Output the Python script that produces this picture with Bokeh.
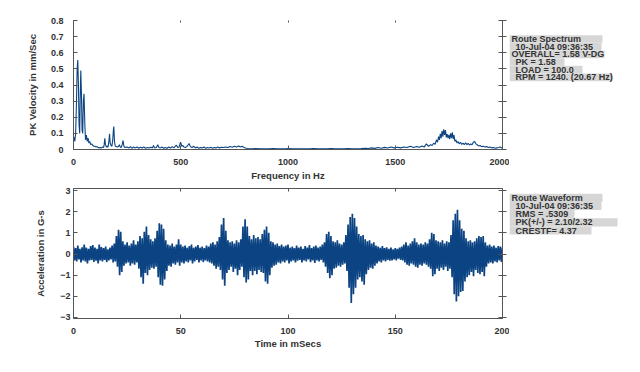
import numpy as np
from bokeh.plotting import figure
from bokeh.models import Range1d, LinearAxis, FixedTicker
from bokeh.layouts import row, column
from bokeh.embed import file_html
from bokeh.resources import INLINE
from bokeh.core.properties import value

# ---------------- data ----------------
spec_freq = [0, 3, 6, 10, 14, 17, 20, 23, 26, 29, 31, 34, 37, 40, 43, 46, 49, 53, 56, 60,
             64, 68, 72, 76, 80, 85, 90, 95, 100, 105, 110, 115, 120, 125, 130, 135, 140, 143, 146, 149,
             153, 157, 161, 165, 168, 171, 175, 179, 183, 186, 188, 191, 195, 200, 205, 210, 214, 218, 222, 227,
             231, 235, 240, 250, 258, 265, 272, 280, 288, 296, 304, 312, 320, 328, 336, 344, 352, 360, 368, 373,
             378, 386, 393, 398, 405, 412, 420, 428, 436, 444, 452, 460, 468, 474, 480, 486, 492, 499, 505, 510,
             515, 522, 530, 539, 545, 552, 560, 568, 576, 584, 592, 600, 608, 616, 624, 632, 640, 648, 656, 664,
             672, 680, 690, 700, 710, 720, 730, 740, 750, 760, 770, 778, 786, 795, 805, 815, 830, 850, 870, 890,
             910, 930, 950, 970, 990, 1000, 1020, 1040, 1060, 1080, 1100, 1120, 1140, 1160, 1180, 1200, 1220, 1240, 1260, 1280,
             1300, 1320, 1340, 1360, 1375, 1390, 1405, 1420, 1435, 1450, 1465, 1480, 1495, 1510, 1525, 1540, 1555, 1570, 1585, 1600,
             1612, 1625, 1635, 1645, 1655, 1665, 1672, 1680, 1686, 1692, 1697, 1702, 1706, 1710, 1714, 1718, 1722, 1726, 1730, 1734,
             1738, 1742, 1746, 1750, 1754, 1758, 1762, 1766, 1770, 1774, 1778, 1783, 1788, 1793, 1798, 1804, 1810, 1816, 1822, 1828,
             1834, 1840, 1846, 1852, 1858, 1864, 1870, 1876, 1882, 1888, 1895, 1902, 1910, 1918, 1926, 1934, 1942, 1950, 1958, 1966,
             1974, 1982, 1990, 1996, 2000]
spec_amp = [0.08, 0.07, 0.05, 0.10, 0.30, 0.50, 0.555, 0.40, 0.15, 0.10, 0.30, 0.49, 0.35, 0.12, 0.10, 0.30, 0.345, 0.15, 0.06, 0.09,
            0.05, 0.07, 0.04, 0.05, 0.03, 0.035, 0.025, 0.02, 0.02, 0.015, 0.018, 0.012, 0.01, 0.012, 0.01, 0.015, 0.012, 0.03, 0.07, 0.03,
            0.015, 0.02, 0.015, 0.05, 0.097, 0.04, 0.025, 0.02, 0.06, 0.12, 0.143, 0.05, 0.02, 0.018, 0.015, 0.02, 0.03, 0.015, 0.012, 0.03,
            0.056, 0.02, 0.012, 0.015, 0.01, 0.018, 0.008, 0.015, 0.01, 0.016, 0.008, 0.014, 0.009, 0.015, 0.008, 0.012, 0.009, 0.014, 0.01, 0.025,
            0.01, 0.012, 0.03, 0.012, 0.01, 0.015, 0.008, 0.013, 0.008, 0.015, 0.009, 0.018, 0.01, 0.02, 0.027, 0.012, 0.015, 0.045, 0.02, 0.025,
            0.015, 0.012, 0.02, 0.037, 0.018, 0.012, 0.02, 0.01, 0.015, 0.008, 0.012, 0.01, 0.015, 0.008, 0.012, 0.009, 0.014, 0.008, 0.012, 0.01,
            0.015, 0.01, 0.014, 0.012, 0.016, 0.012, 0.018, 0.014, 0.02, 0.015, 0.022, 0.016, 0.02, 0.012, 0.008, 0.006, 0.005, 0.006, 0.004, 0.005,
            0.004, 0.006, 0.004, 0.005, 0.004, 0.006, 0.004, 0.005, 0.004, 0.005, 0.004, 0.006, 0.004, 0.005, 0.004, 0.006, 0.004, 0.005, 0.004, 0.006,
            0.004, 0.005, 0.006, 0.008, 0.006, 0.01, 0.007, 0.012, 0.008, 0.013, 0.009, 0.015, 0.01, 0.014, 0.01, 0.016, 0.012, 0.02, 0.012, 0.018,
            0.014, 0.022, 0.015, 0.035, 0.02, 0.03, 0.025, 0.04, 0.032, 0.06, 0.045, 0.08, 0.06, 0.097, 0.07, 0.115, 0.08, 0.125, 0.09, 0.12,
            0.075, 0.095, 0.07, 0.09, 0.065, 0.10, 0.07, 0.107, 0.065, 0.09, 0.05, 0.06, 0.04, 0.05, 0.035, 0.045, 0.032, 0.04, 0.03, 0.042,
            0.03, 0.038, 0.028, 0.035, 0.03, 0.045, 0.05, 0.035, 0.03, 0.022, 0.025, 0.018, 0.02, 0.015, 0.018, 0.012, 0.015, 0.01, 0.012, 0.008,
            0.01, 0.012, 0.015, 0.01, 0.008]

# waveform: successive positive / negative extremes, one pair per millisecond
wave_time_ms = list(range(0, 201))
wave_upper = [0.35, 0.28, 0.40, 0.25, 0.32, 0.45, 0.30, 0.25, 0.38, 0.42,
              0.30, 0.25, 0.45, 0.33, 0.28, 0.35, 0.22, 0.30, 0.40, 0.50,
              0.85, 1.15, 1.05, 0.60, 0.45, 0.55, 0.40, 0.50, 0.65, 0.45,
              0.60, 0.85, 0.75, 1.05, 1.30, 0.90, 0.70, 0.60, 0.75, 1.10,
              1.45, 1.40, 1.20, 0.65, 0.45, 0.40, 0.50, 0.35, 0.45, 0.70,
              0.45, 0.35, 0.40, 0.30, 0.38, 0.45, 0.30, 0.35, 0.42, 0.30,
              0.35, 0.28, 0.40, 0.35, 0.50, 0.55, 0.45, 0.60, 0.80, 1.40,
              1.70, 1.10, 0.65, 0.55, 0.60, 0.50, 0.65, 0.55, 0.70, 1.30,
              1.65, 1.30, 0.85, 0.70, 0.90, 0.75, 0.80, 0.70, 0.95, 1.15,
              1.30, 1.00, 0.60, 0.55, 0.45, 0.50, 0.38, 0.45, 0.35, 0.40,
              0.45, 0.30, 0.35, 0.28, 0.40, 0.30, 0.35, 0.25, 0.38, 0.30,
              0.42, 0.28, 0.35, 0.40, 0.30, 0.35, 0.45, 0.55, 0.95, 1.05,
              0.85, 0.60, 0.55, 0.65, 0.50, 0.45, 0.55, 0.90, 1.40, 1.75,
              1.90, 1.70, 1.30, 0.95, 0.85, 0.90, 0.70, 0.60, 0.65, 0.50,
              0.55, 0.40, 0.35, 0.30, 0.38, 0.28, 0.32, 0.25, 0.30, 0.22,
              0.28, 0.25, 0.30, 0.35, 0.45, 0.55, 0.40, 0.50, 0.60, 0.75,
              0.55, 0.45, 0.50, 0.45, 0.55, 0.50, 0.70, 1.00, 0.95, 0.65,
              0.60, 0.55, 0.65, 0.50, 0.60, 0.55, 0.90, 1.60, 1.90, 2.10,
              1.60, 1.20, 1.10, 0.75, 0.60, 0.65, 0.55, 0.60, 0.75, 0.85,
              0.80, 0.85, 0.55, 0.40, 0.45, 0.35, 0.40, 0.30, 0.38, 0.35,
              0.30]
wave_lower = [-0.30, -0.35, -0.25, -0.40, -0.30, -0.35, -0.45, -0.30, -0.28, -0.38,
              -0.32, -0.45, -0.30, -0.35, -0.28, -0.38, -0.30, -0.25, -0.40, -0.35,
              -0.60, -1.00, -0.85, -0.55, -0.45, -0.40, -0.55, -0.45, -0.50, -0.40,
              -0.70, -1.10, -1.40, -0.90, -1.00, -0.75, -0.65, -0.70, -0.60, -1.10,
              -1.45, -1.50, -1.20, -0.80, -0.55, -0.60, -0.45, -0.50, -0.40, -0.55,
              -0.40, -0.45, -0.35, -0.40, -0.30, -0.45, -0.35, -0.28, -0.40, -0.30,
              -0.38, -0.30, -0.35, -0.40, -0.45, -0.55, -0.70, -0.60, -0.75, -1.20,
              -1.50, -0.90, -0.75, -0.60, -0.85, -0.70, -1.00, -0.75, -0.60, -1.10,
              -1.35, -1.20, -0.80, -1.00, -0.80, -0.95, -0.75, -0.85, -0.90, -1.30,
              -1.40, -1.00, -0.65, -0.55, -0.50, -0.40, -0.45, -0.35, -0.40, -0.30,
              -0.45, -0.35, -0.30, -0.40, -0.32, -0.28, -0.40, -0.30, -0.35, -0.25,
              -0.38, -0.30, -0.42, -0.30, -0.35, -0.28, -0.40, -0.60, -0.90, -1.15,
              -1.00, -0.70, -0.65, -0.55, -0.60, -0.50, -0.45, -0.80, -1.60, -2.32,
              -1.90, -1.60, -1.20, -1.10, -1.30, -1.45, -0.95, -0.75, -0.65, -0.70,
              -0.55, -0.45, -0.35, -0.40, -0.30, -0.35, -0.28, -0.32, -0.30, -0.25,
              -0.30, -0.22, -0.28, -0.30, -0.40, -0.50, -0.55, -0.45, -0.50, -0.60,
              -0.65, -0.50, -0.55, -0.45, -0.50, -0.60, -0.70, -1.05, -0.95, -0.70,
              -0.80, -0.65, -0.75, -0.60, -0.80, -0.70, -1.10, -1.90, -2.25, -2.00,
              -1.80, -1.75, -1.30, -1.10, -1.00, -0.85, -1.05, -0.75, -0.90, -0.95,
              -0.85, -1.05, -0.60, -0.45, -0.40, -0.45, -0.35, -0.40, -0.30, -0.38,
              -0.35]

spec_xticks = [0, 500, 1000, 1500, 2000]
spec_yticks = [0, 0.1, 0.2, 0.3, 0.4, 0.5, 0.6, 0.7, 0.8]
wave_xticks = [0, 50, 100, 150, 200]
wave_yticks = [-3, -2, -1, 0, 1, 2, 3]

spec_info = ["Route Spectrum", "10-Jul-04  09:36:35", "OVERALL= 1.58 V-DG",
             "PK  =  1.58", "LOAD = 100.0", "RPM = 1240. (20.67 Hz)"]
wave_info = ["Route Waveform", "10-Jul-04  09:36:35", "RMS = .5309",
             "PK(+/-) = 2.10/2.32", "CRESTF= 4.37"]

# ---------------- styling / layout ----------------
FONT = "Liberation Sans"
BLUE = "#0c4483"
AX = "#555555"
TXT = "#333333"
BOXC = "#d6d6d6"

spec_indent = [2, 6, 2, 6, 6, 6]
spec_box_right = [93, 92, 95, 55, 73, 103]
wave_indent = [2, 6, 6, 6, 6]
wave_box_right = [93, 92, 65, 108, 82]


def style_axis(ax, tick_in=4, tick_out=0, standoff=8, label_standoff=2):
    ax.axis_line_color = AX
    ax.major_tick_line_color = AX
    ax.minor_tick_line_color = None
    ax.major_tick_in = tick_in
    ax.major_tick_out = tick_out
    ax.major_label_standoff = standoff
    ax.axis_label_standoff = label_standoff
    ax.major_label_text_font = FONT
    ax.major_label_text_font_size = "9px"
    ax.major_label_text_font_style = "bold"
    ax.major_label_text_color = TXT
    ax.axis_label_text_font = FONT
    ax.axis_label_text_font_size = "9.5px"
    ax.axis_label_text_font_style = "bold"
    ax.axis_label_text_color = TXT


def blank_axis(ticks, tick_in, tick_out, line=True):
    a = LinearAxis(ticker=FixedTicker(ticks=ticks))
    style_axis(a, tick_in=tick_in, tick_out=tick_out, standoff=0, label_standoff=0)
    a.major_label_text_font_size = "1px"
    a.major_label_text_color = None
    if not line:
        a.axis_line_color = None
    return a


def main_fig(height, top, bottom, xr, yr, xticks, yticks, xlabel, ylabel,
             y_standoff, y_label_standoff, x_standoff, x_label_standoff, top_line):
    p = figure(width=509, height=height, x_range=Range1d(*xr), y_range=Range1d(*yr),
               output_backend="svg", toolbar_location=None,
               min_border_left=73, min_border_right=7, min_border_top=top, min_border_bottom=bottom)
    p.grid.visible = False
    p.outline_line_color = None
    p.xaxis.ticker = FixedTicker(ticks=xticks)
    p.yaxis.ticker = FixedTicker(ticks=yticks)
    style_axis(p.xaxis[0], standoff=x_standoff, label_standoff=x_label_standoff)
    style_axis(p.yaxis[0], standoff=y_standoff, label_standoff=y_label_standoff)
    p.xaxis.axis_label = xlabel
    p.yaxis.axis_label = ylabel
    p.add_layout(blank_axis(yticks, 4, 4), "right")
    p.add_layout(blank_axis(xticks, 3 if top_line else 2, 0, line=top_line), "above")
    return p


def side_fig(height, lines, indents, rights, first_center, step):
    s = figure(width=123, height=height, x_range=Range1d(0, 123), y_range=Range1d(height, 0),
               output_backend="svg", toolbar_location=None, min_border=0,
               x_axis_location=None, y_axis_location=None)
    s.grid.visible = False
    s.outline_line_color = None
    centers = [first_center + i * step for i in range(len(lines))]
    s.quad(left=[0] * len(lines), right=rights,
           top=[c - step / 2 for c in centers], bottom=[c + step / 2 for c in centers],
           fill_color=BOXC, line_color=None)
    s.text(x=indents, y=centers, text=lines, text_font=value(FONT), text_font_size="9px",
           text_font_style="bold", text_baseline="middle", text_align="left", text_color=TXT)
    return s


# spectrum panel
p1 = main_fig(183, 20, 34, (0, 2000), (0, 0.8), spec_xticks, spec_yticks,
              "Frequency in Hz", "PK Velocity in mm/Sec", 10, 10, 9, 2, top_line=False)
p1.line(spec_freq, spec_amp, line_color=BLUE, line_width=1.1)
s1 = side_fig(183, spec_info, spec_indent, spec_box_right, 26.2, 10.9)

# waveform panel
p2 = main_fig(172, 5, 37, (0, 200), (-3.05, 3.1), wave_xticks, wave_yticks,
              "Time in mSecs", "Acceleration in G-s", 3, 11, 9, 1, top_line=True)
t = np.asarray(wave_time_ms, dtype=float)
wx = np.column_stack([t, t + 0.5]).ravel()
wy = np.column_stack([wave_upper, wave_lower]).ravel()
p2.line(wx, wy, line_color=BLUE, line_width=1.7)
s2 = side_fig(172, wave_info, wave_indent, wave_box_right, 12.4, 10.8)

layout = column(row(p1, s1), row(p2, s2))
open("out.html", "w").write(file_html(layout, INLINE))
